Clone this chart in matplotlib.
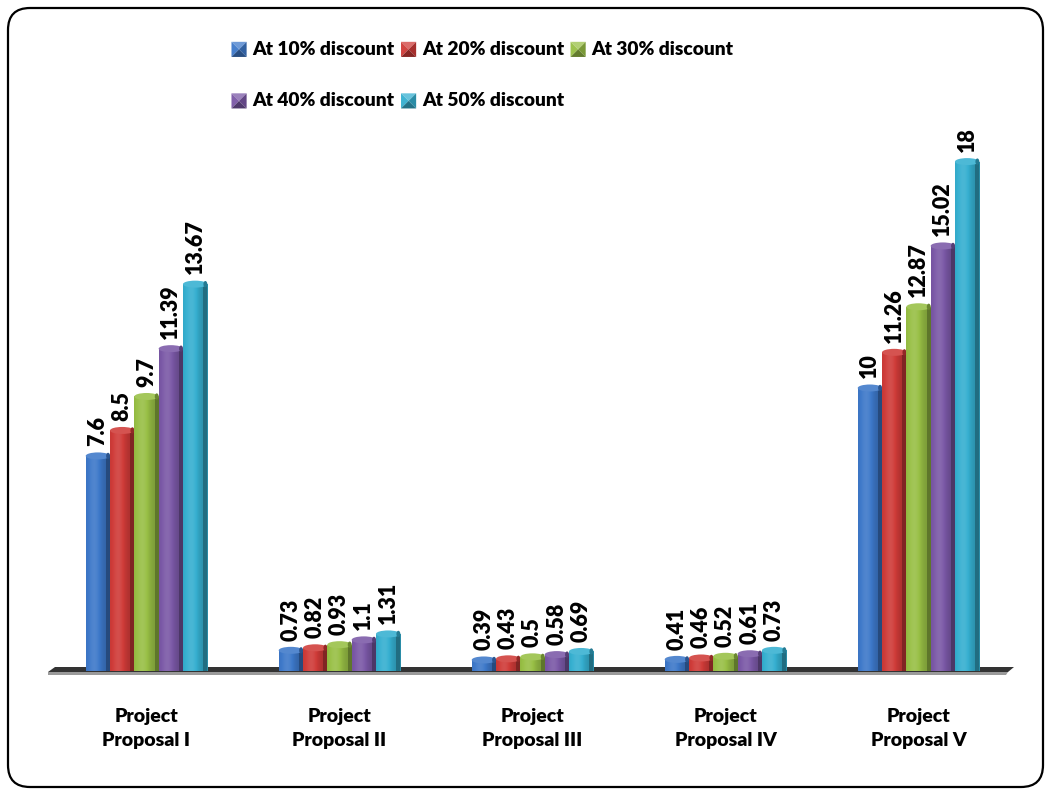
import numpy as np
import matplotlib
matplotlib.use("Agg")
import matplotlib.pyplot as plt
from matplotlib.patches import Rectangle, Ellipse, Polygon, FancyBboxPatch
from matplotlib.legend_handler import HandlerBase
from matplotlib.colors import to_rgb

# ---- data ----
categories = ["Project\nProposal I", "Project\nProposal II", "Project\nProposal III",
              "Project\nProposal IV", "Project\nProposal V"]
series_names = ["At 10% discount", "At 20% discount", "At 30% discount",
                "At 40% discount", "At 50% discount"]
at_10 = [7.6, 0.73, 0.39, 0.41, 10]
at_20 = [8.5, 0.82, 0.43, 0.46, 11.26]
at_30 = [9.7, 0.93, 0.5, 0.52, 12.87]
at_40 = [11.39, 1.1, 0.58, 0.61, 15.02]
at_50 = [13.67, 1.31, 0.69, 0.73, 18]
series_values = [at_10, at_20, at_30, at_40, at_50]
value_labels = [["7.6", "0.73", "0.39", "0.41", "10"],
                ["8.5", "0.82", "0.43", "0.46", "11.26"],
                ["9.7", "0.93", "0.5", "0.52", "12.87"],
                ["11.39", "1.1", "0.58", "0.61", "15.02"],
                ["13.67", "1.31", "0.69", "0.73", "18"]]
colors = ["#3d78c9", "#cf3b38", "#98bf45", "#7a58a6", "#35afd0"]

FONT = ["Lato", "DejaVu Sans"]
WEIGHT = "heavy"
plt.rcParams["font.family"] = FONT


def shade(c, f):
    r = np.array(to_rgb(c))
    if f >= 1:
        return tuple(r + (1 - r) * (f - 1))
    return tuple(r * f)


fig = plt.figure(figsize=(10.51, 7.95), dpi=100)
W, H = 1051, 795
ax_left, ax_right, ax_bottom, ax_top = 50, 1015, 671, 105
ax = fig.add_axes([ax_left / W, (H - ax_bottom) / H,
                   (ax_right - ax_left) / W, (ax_bottom - ax_top) / H])
ax.set_xlim(-0.5, 4.5)
ax.set_ylim(0, 20)
ax.axis("off")

# rounded outer frame
frame = FancyBboxPatch((0.08 + 0.12, 0.08 + 0.12), 10.35 - 0.24, 7.79 - 0.24,
                       boxstyle="round,pad=0.12,rounding_size=0.22",
                       transform=fig.dpi_scale_trans, fill=False,
                       edgecolor="black", linewidth=1.6, zorder=0)
fig.patches.append(frame)

# thin floor slab under the bars
px_x = lambda p: (p - ax_left) / (ax_right - ax_left)
px_y = lambda p: (ax_bottom - p) / (ax_bottom - ax_top)
floor_top = Polygon([(px_x(55), px_y(667)), (px_x(1014), px_y(667)),
                     (px_x(1008), px_y(672)), (px_x(48), px_y(672))],
                    closed=True, transform=ax.transAxes, facecolor="#333333",
                    edgecolor="none", clip_on=False, zorder=1)
floor_edge = Polygon([(px_x(48), px_y(672)), (px_x(1008), px_y(672)),
                      (px_x(1006), px_y(675)), (px_x(48), px_y(675))],
                     closed=True, transform=ax.transAxes, facecolor="#9a9a9a",
                     edgecolor="none", clip_on=False, zorder=1)
ax.add_patch(floor_top)
ax.add_patch(floor_edge)

n_series = len(series_values)
bar_w = 0.126
x = np.arange(len(categories))
px_per_unit_y = (ax_bottom - ax_top) / 20.0
cap_h = 7 / px_per_unit_y
side_w = bar_w * 0.16

# horizontal gradient profile across the bar front
prof_x = np.linspace(0, 1, 64)
profile = 0.92 + 0.22 * np.exp(-((prof_x - 0.35) / 0.28) ** 2) - 0.12 * prof_x

for j, (vals, c) in enumerate(zip(series_values, colors)):
    offs = (j - (n_series - 1) / 2) * bar_w
    bars = ax.bar(x + offs, vals, width=bar_w, color=c, edgecolor="none", zorder=3 + j)
    for k, (rect, v) in enumerate(zip(bars, vals)):
        x0 = rect.get_x()
        w = rect.get_width()
        img = np.array([[shade(c, f) for f in profile]])
        im = ax.imshow(img, extent=[x0, x0 + w, 0, v], aspect="auto",
                       interpolation="bilinear", zorder=3 + j)
        im.set_clip_path(rect)
        # darker side face
        ax.add_patch(Rectangle((x0 + w - side_w, 0), side_w, v,
                               facecolor=shade(c, 0.62), edgecolor="none", zorder=3.1 + j))
        # rounded top cap
        ax.add_patch(Ellipse((x0 + w / 2, v), w, cap_h,
                             facecolor=shade(c, 1.12), edgecolor="none", zorder=3.2 + j))
        ax.add_patch(Ellipse((x0 + w - side_w / 2, v), side_w, cap_h * 0.9,
                             facecolor=shade(c, 0.7), edgecolor="none", zorder=3.3 + j))
        ax.annotate(value_labels[j][k], (x0 + w / 2, v), xytext=(0, 7),
                    textcoords="offset points", rotation=90, ha="center", va="bottom",
                    fontsize=15.5, fontweight=WEIGHT, color="black", zorder=10)

# category labels below the floor
for i, cat in enumerate(categories):
    ax.text(x[i], -37 / px_per_unit_y, cat, ha="center", va="top", fontsize=14,
            fontweight=WEIGHT, linespacing=1.5, clip_on=False)


# bevelled square legend keys
class BevelKey(HandlerBase):
    def __init__(self, color):
        super().__init__()
        self.color = color

    def create_artists(self, legend, orig_handle, xdescent, ydescent, width, height,
                       fontsize, trans):
        s = min(width, height) * 1.05
        cx = -xdescent + width - s / 2
        cy = -ydescent + height / 2 - 1
        x0, x1, y0, y1 = cx - s / 2, cx + s / 2, cy - s / 2, cy + s / 2
        c = self.color
        faces = [
            ([(x0, y1), (x1, y1), (cx, cy)], shade(c, 1.25)),
            ([(x0, y0), (x0, y1), (cx, cy)], shade(c, 1.05)),
            ([(x1, y0), (x1, y1), (cx, cy)], shade(c, 0.8)),
            ([(x0, y0), (x1, y0), (cx, cy)], shade(c, 0.65)),
        ]
        arts = []
        for pts, fc in faces:
            p = Polygon(pts, closed=True, facecolor=fc, edgecolor="none", transform=trans)
            arts.append(p)
        return arts


handles = [Rectangle((0, 0), 1, 1) for _ in series_names]
order = [0, 3, 1, 4, 2]
leg = fig.legend([handles[i] for i in order], [series_names[i] for i in order],
                 handler_map={handles[i]: BevelKey(colors[i]) for i in range(n_series)},
                 loc="upper left", bbox_to_anchor=(224 / W, 1 - 33 / H), ncol=3,
                 frameon=False, prop={"family": FONT, "weight": WEIGHT, "size": 13.8},
                 handlelength=0.78, handleheight=0.78, handletextpad=0.3,
                 columnspacing=0.35, labelspacing=1.8, borderaxespad=0)

fig.savefig("out.png", dpi=100)
